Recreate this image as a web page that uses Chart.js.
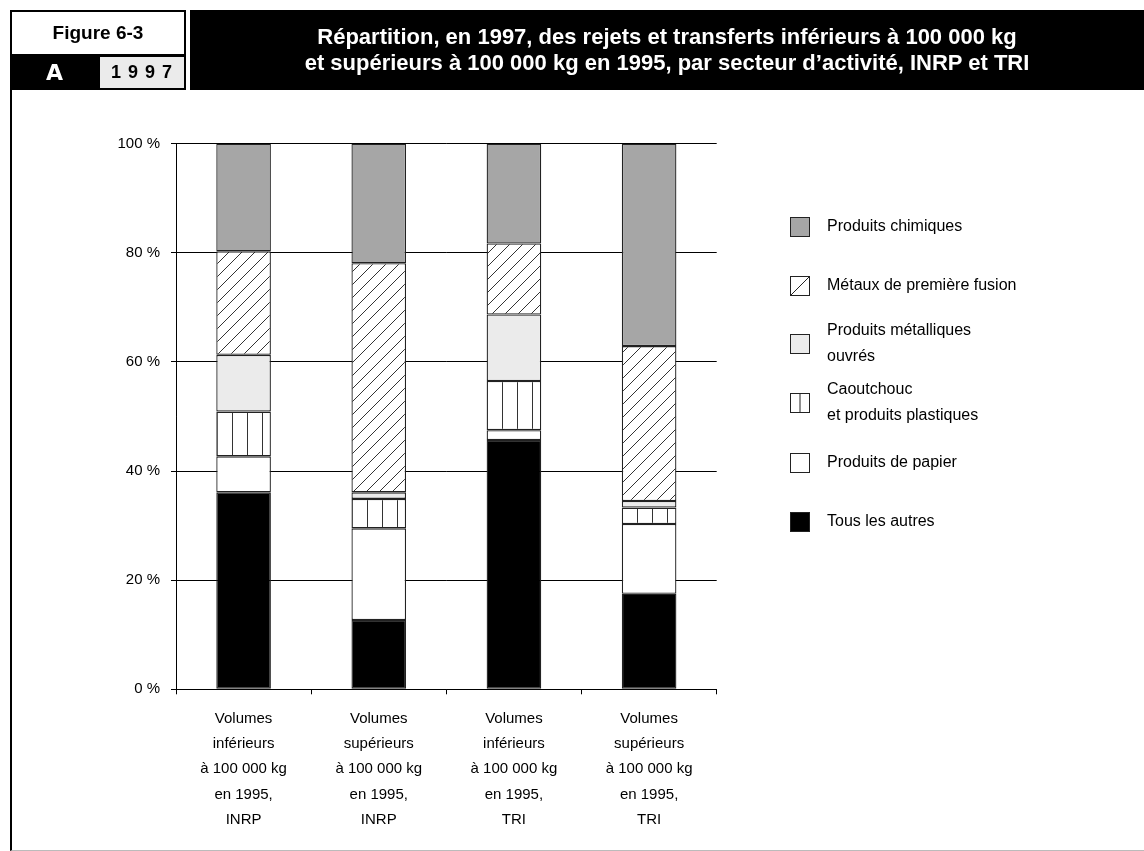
<!DOCTYPE html>
<html lang="fr">
<head>
<meta charset="utf-8">
<script src="https://cdn.jsdelivr.net/npm/chart.js@4/dist/chart.umd.min.js"></script>
<style>
	body { margin: 0; background: #fff; font-family: "Liberation Sans", Arial, sans-serif; }
	#page { position: relative; width: 1144px; height: 851px; overflow: hidden; }
	#chart { position: absolute; left: 0; top: 0; }
	.box { position: absolute; box-sizing: border-box; display: flex; align-items: center; justify-content: center; }
	.bold { font-family: "Liberation Sans", Arial, sans-serif; font-weight: bold; }
	#frame { position: absolute; left: 10px; top: 10px; width: 1140px; height: 841px; box-sizing: border-box;
		border-left: 2px solid #000; border-bottom: 1px solid #bbb; }
	#fig { left: 10px; top: 10px; width: 176px; height: 46px; border: 2px solid #000; background: #fff; font-size: 19px; }
	#lettre { left: 10px; top: 55px; width: 89px; height: 35px; background: #000; color: #fff;
		font-family: "DejaVu Sans", sans-serif; font-weight: bold; font-size: 22px; }
	#annee { left: 98px; top: 55px; width: 88px; height: 35px; background: #ebebeb; border: 2px solid #000;
		font-size: 18px; letter-spacing: 7px; padding-left: 6px; }
	#titre { left: 190px; top: 10px; width: 954px; height: 80px; background: #000; color: #fff;
		font-size: 22px; line-height: 26px; text-align: center; }
</style>
</head>
<body>
<div id="page">
	<canvas id="chart" width="1144" height="851"></canvas>
	<div id="frame"></div>
	<div class="box bold" id="fig">Figure 6-3</div>
	<div class="box" id="lettre">A</div>
	<div class="box bold" id="annee">1997</div>
	<div class="box bold" id="titre">Répartition, en 1997, des rejets et transferts inférieurs à 100 000 kg<br>et supérieurs à 100 000 kg en 1995, par secteur d’activité, INRP et TRI</div>
</div>
<script>
	// Categories (x axis, multi-line labels)
	var categories = [
		["Volumes", "inférieurs", "à 100 000 kg", "en 1995,", "INRP"],
		["Volumes", "supérieurs", "à 100 000 kg", "en 1995,", "INRP"],
		["Volumes", "inférieurs", "à 100 000 kg", "en 1995,", "TRI"],
		["Volumes", "supérieurs", "à 100 000 kg", "en 1995,", "TRI"]
	];

	// Shares in % (stacked bottom to top)
	var tousLesAutres = [36.1, 12.7, 45.7, 17.5];
	var produitsPapier = [6.6, 16.8, 1.8, 12.8];
	var caoutchouc = [8.2, 5.4, 9.0, 3.0];
	var produitsMetalliques = [10.4, 1.2, 12.2, 1.2];
	var metauxFusion = [19.0, 42.0, 13.0, 28.4];
	var produitsChimiques = [19.7, 21.9, 18.3, 37.1];

	var yTicks = [0, 20, 40, 60, 80, 100];

	function makePattern(kind) {
		var c = document.createElement("canvas");
		var size = kind === "diag" ? 13 : 15;
		c.width = size;
		c.height = size;
		var g = c.getContext("2d");
		g.fillStyle = "#fff";
		g.fillRect(0, 0, size, size);
		g.strokeStyle = "#333";
		g.lineWidth = 1;
		g.beginPath();
		if(kind === "diag") {
			g.moveTo(0, size); g.lineTo(size, 0);
			g.moveTo(-1, 1); g.lineTo(1, -1);
			g.moveTo(size - 1, size + 1); g.lineTo(size + 1, size - 1);
		} else {
			g.moveTo(7.5, 0); g.lineTo(7.5, size);
		}
		g.stroke();
		return g.createPattern(c, "repeat");
	}

	var ctx = document.getElementById("chart").getContext("2d");
	var hatchDiag = makePattern("diag");
	var hatchVert = makePattern("vert");

	// Legend, top to bottom
	var legendItems = [
		{ lines: ["Produits chimiques"], fill: "#a6a6a6", y: 227 },
		{ lines: ["Métaux de première fusion"], fill: "#fff", mark: "diag", y: 286 },
		{ lines: ["Produits métalliques", "ouvrés"], fill: "#ebebeb", y: 344 },
		{ lines: ["Caoutchouc", "et produits plastiques"], fill: "#fff", mark: "vert", y: 403 },
		{ lines: ["Produits de papier"], fill: "#fff", y: 463 },
		{ lines: ["Tous les autres"], fill: "#000", y: 522 }
	];

	var legendPlugin = {
		id: "sideLegend",
		afterDraw: function(chart) {
			var c = chart.ctx;
			c.save();
			legendItems.forEach(function(item) {
				var x = 790, y = item.y - 10, s = 20;
				c.fillStyle = item.fill;
				c.fillRect(x, y, s, s);
				c.strokeStyle = "#222";
				c.lineWidth = 1;
				c.strokeRect(x + 0.5, y + 0.5, s - 1, s - 1);
				if(item.mark === "diag") {
					c.beginPath(); c.moveTo(x, y + s); c.lineTo(x + s, y); c.stroke();
				} else if(item.mark === "vert") {
					c.beginPath(); c.moveTo(x + s / 2, y); c.lineTo(x + s / 2, y + s); c.stroke();
				}
				c.fillStyle = "#000";
				c.font = "16px 'Liberation Sans', Arial, sans-serif";
				c.textBaseline = "middle";
				var lh = 26;
				var y0 = item.y - (item.lines.length - 1) * lh / 2;
				item.lines.forEach(function(line, i) {
					c.fillText(line, 827, y0 + i * lh);
				});
			});
			c.restore();
		}
	};

	function ds(label, data, color) {
		return {
			label: label,
			data: data,
			backgroundColor: color,
			borderColor: "#222",
			borderWidth: 1.3,
			borderSkipped: false,
			barPercentage: 0.404,
			categoryPercentage: 1
		};
	}

	new Chart(ctx, {
		type: "bar",
		data: {
			labels: categories,
			datasets: [
				ds("Tous les autres", tousLesAutres, "#000"),
				ds("Produits de papier", produitsPapier, "#fff"),
				ds("Caoutchouc et produits plastiques", caoutchouc, hatchVert),
				ds("Produits métalliques ouvrés", produitsMetalliques, "#ebebeb"),
				ds("Métaux de première fusion", metauxFusion, hatchDiag),
				ds("Produits chimiques", produitsChimiques, "#a6a6a6")
			]
		},
		options: {
			responsive: false,
			animation: false,
			devicePixelRatio: 1,
			layout: { padding: { left: 0, top: 143.7, right: 427.3, bottom: 0 } },
			plugins: { legend: { display: false }, tooltip: { enabled: false } },
			scales: {
				x: {
					stacked: true,
					offset: true,
					afterFit: function(scale) { scale.height = 161.7; },
					grid: {
						offset: true,
						color: function(c) { return (c.index === 0 || c.index === categories.length) ? "#000" : "rgba(0,0,0,0)"; },
						tickColor: "#000",
						tickLength: 5,
						lineWidth: 1
					},
					border: { display: true, color: "#000", width: 1 },
					ticks: {
						color: "#000",
						padding: 12,
						maxRotation: 0,
						autoSkip: false,
						font: { family: "'Liberation Sans', Arial, sans-serif", size: 15, lineHeight: 1.68 }
					}
				},
				y: {
					stacked: true,
					min: 0,
					max: 100,
					afterFit: function(scale) { scale.width = 176; },
					afterBuildTicks: function(scale) {
						scale.ticks = yTicks.map(function(v) { return { value: v }; });
					},
					grid: { color: "#000", tickColor: "#000", tickLength: 5, lineWidth: 1 },
					border: { display: true, color: "#000", width: 1 },
					ticks: {
						color: "#000",
						padding: 11,
						font: { family: "'Liberation Sans', Arial, sans-serif", size: 15 },
						callback: function(v) { return v + " %"; }
					}
				}
			}
		},
		plugins: [legendPlugin]
	});
</script>
</body>
</html>
